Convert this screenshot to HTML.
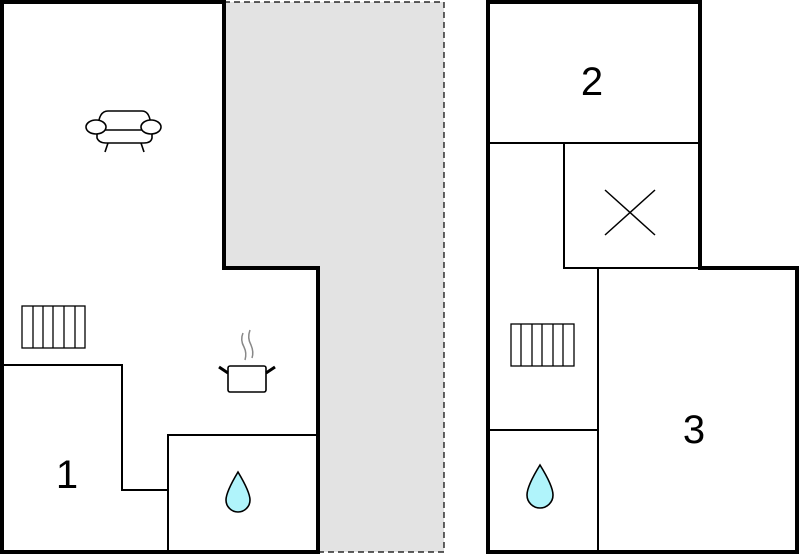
<!DOCTYPE html>
<html><head><style>body{margin:0;background:#fff}svg{display:block}</style></head><body>
<svg width="800" height="555" viewBox="0 0 800 555" xmlns="http://www.w3.org/2000/svg">
<polygon points="224,2 444,2 444,552 318,552 318,268 224,268" fill="#e3e3e3" stroke="#000" stroke-width="1.2" stroke-dasharray="6,4"/>
<g fill="none" stroke="#000" stroke-width="2">
<polyline points="2,365 122,365 122,490 168,490"/>
<polyline points="168,552 168,435 318,435"/>
<line x1="488" y1="143" x2="700" y2="143"/>
<polyline points="564,143 564,268 700,268"/>
<line x1="598" y1="268" x2="598" y2="552"/>
<line x1="488" y1="430" x2="598" y2="430"/>
<line x1="605" y1="190" x2="655" y2="235" stroke-width="1.5"/>
<line x1="655" y1="190" x2="605" y2="235" stroke-width="1.5"/>
</g>
<polygon points="2,2 224,2 224,268 318,268 318,552 2,552" fill="none" stroke="#000" stroke-width="4"/>
<polygon points="488,2 700,2 700,268 797,268 797,552 488,552" fill="none" stroke="#000" stroke-width="4"/>
<!-- sofa -->
<g fill="#fff" stroke="#000" stroke-width="1.6">
<path d="M98,130 Q98,111 108,111 L142,111 Q151,111 151,130 Z"/>
<path d="M97,131 L97,138 Q99,143 106,143 L144,143 Q151,143 152,138 L152,131"/>
<ellipse cx="96" cy="127" rx="10" ry="7"/>
<ellipse cx="151" cy="127" rx="10" ry="7"/>
<line x1="108" y1="143" x2="105" y2="152"/>
<line x1="141" y1="143" x2="144" y2="152"/>
</g>
<!-- radiators -->
<g fill="#fff" stroke="#000" stroke-width="1.3">
<rect x="22" y="306" width="63" height="42"/>
<path d="M33,306V348M43,306V348M53,306V348M64,306V348M75,306V348"/>
<rect x="511" y="324" width="63" height="42"/>
<path d="M521,324V366M532,324V366M542,324V366M553,324V366M563,324V366"/>
</g>
<!-- pot -->
<g stroke="#888" stroke-width="1.5" fill="none">
<path d="M243,333 Q240,340 244,347 Q247,353 245,360"/>
<path d="M250,330 Q247,338 251,345 Q254,352 252,358"/>
</g>
<rect x="228" y="366" width="38" height="26" rx="2" fill="#fff" stroke="#000" stroke-width="1.6"/>
<path d="M228,373 L219,367 M266,373 L275,367" stroke="#000" stroke-width="3"/>
<!-- drops -->
<path d="M238,472 Q250,492 250,500 A12,12 0 0 1 226,500 Q226,492 238,472 Z" fill="#b0f4fb" stroke="#000" stroke-width="1.6"/>
<path d="M540,465 Q553,486 553,495 A13,13 0 0 1 527,495 Q527,486 540,465 Z" fill="#b0f4fb" stroke="#000" stroke-width="1.6"/>
<g font-family="Liberation Sans, sans-serif" font-size="40" text-anchor="middle" fill="#000">
<text x="67" y="488">1</text>
<text x="592" y="95">2</text>
<text x="694" y="443">3</text>
</g>
</svg>
</body></html>
